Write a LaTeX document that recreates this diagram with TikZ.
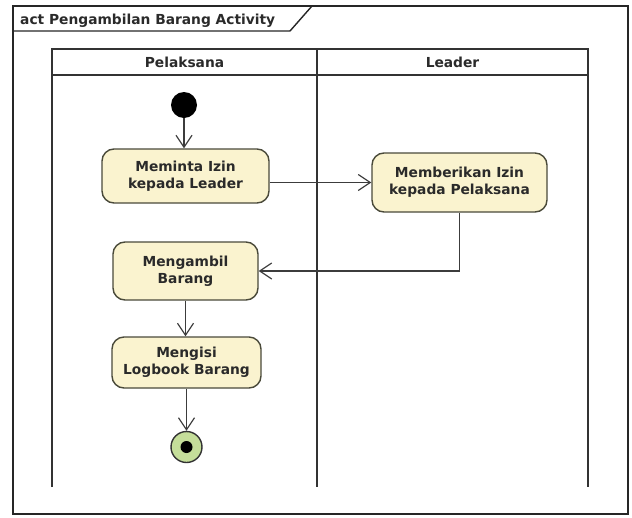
\documentclass[tikz,border=0pt]{standalone}
\usepackage{fontspec}
\setmainfont{DejaVu Sans}
\usetikzlibrary{arrows.meta}
\definecolor{boxfill}{HTML}{FAF3CF}
\definecolor{boxline}{HTML}{4A4A3A}
\definecolor{lineg}{HTML}{3C3C3C}
\definecolor{txt}{HTML}{2A2A2A}
\definecolor{endfill}{HTML}{C5DE9A}
\tikzset{
  act/.style={draw=boxline, fill=boxfill, line width=1.4pt, rounded corners=12pt,
    align=center, font=\fontsize{13.8}{17}\selectfont\bfseries, text=txt, inner sep=0pt},
  flow/.style={draw=lineg, line width=1.3pt, -{Straight Barb[length=12pt,width=16pt,line width=1.2pt]}},
  frame/.style={draw=black!85, line width=1.4pt},
  lane/.style={draw=black!80, line width=1.5pt},
  hdr/.style={font=\fontsize{13.8}{16}\selectfont\bfseries, text=txt, inner sep=0pt},
}
\begin{document}
\begin{tikzpicture}[x=1pt,y=-1pt]
\useasboundingbox (0,0) rectangle (632,517);
% outer frame
\draw[frame] (13,6) rectangle (628,514);
\draw[frame] (13,31) -- (290,31) -- (312,6);
\node[hdr, anchor=base west] (title) at (20,24) {act Pengambilan Barang Activity};
% swimlanes
\draw[lane] (52,487) -- (52,49) -- (588,49) -- (588,487);
\draw[lane] (52,75) -- (588,75);
\draw[lane] (317,49) -- (317,487);
\node[hdr] (lp) at (184.5,62) {Pelaksana};
\node[hdr] (ll) at (452.5,62) {Leader};
% nodes
\node[circle, fill=black, minimum size=26pt, inner sep=0pt] (start) at (184,105) {};
\node[act, minimum width=167pt, minimum height=54pt] (minta) at (185.5,176) {Meminta Izin\\kepada Leader};
\node[act, minimum width=175pt, minimum height=59pt] (beri) at (459.5,182.5) {Memberikan Izin\\kepada Pelaksana};
\node[act, minimum width=145pt, minimum height=58pt] (ambil) at (185.5,271) {Mengambil\\Barang};
\node[act, minimum width=149pt, minimum height=51pt] (isi) at (186.5,362.5) {Mengisi\\Logbook Barang};
\node[circle, draw=black!80, line width=1.4pt, fill=endfill, minimum size=31pt, inner sep=0pt] (end) at (186.5,447) {};
\node[circle, fill=black, minimum size=12pt, inner sep=0pt] (enddot) at (end.center) {};
% flows
\draw[flow] (start) -- (start |- minta.north);
\draw[flow] (minta.east |- beri.west) -- (beri.west);
\draw[flow] (beri.south) |- (ambil.east);
\draw[flow] (ambil.south) -- (ambil.south |- isi.north);
\draw[flow] (isi.south) -- (end.north);
\end{tikzpicture}
\end{document}
